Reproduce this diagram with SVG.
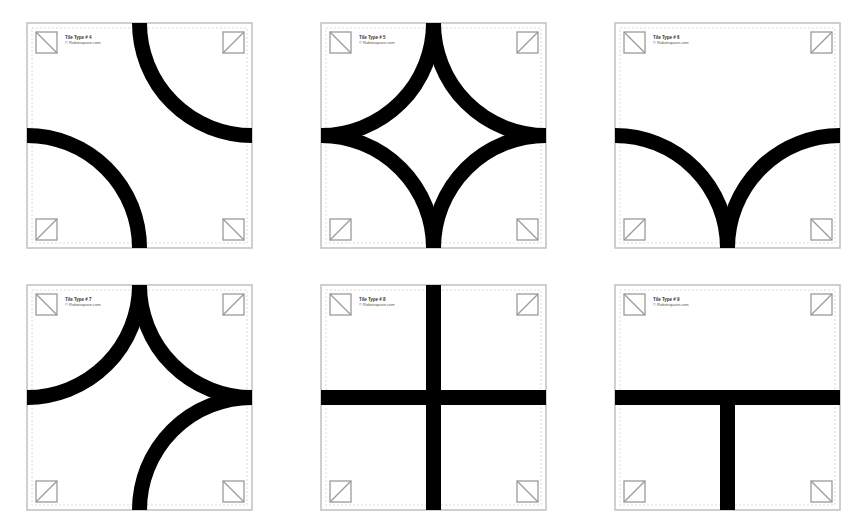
<svg xmlns="http://www.w3.org/2000/svg" xmlns:xlink="http://www.w3.org/1999/xlink" width="845" height="522" viewBox="0 0 845 522">
<style>
.outer{fill:#fff;stroke:#c4c4c4;stroke-width:1.6}
.inner{fill:none;stroke:#d2d2d2;stroke-width:0.8;stroke-dasharray:2 2}
.icon{fill:none;stroke:#9a9a9a;stroke-width:1.3}
.trk{fill:none;stroke:#000;stroke-width:15}
.t1{font-family:"Liberation Sans",Arial,sans-serif;font-size:4.5px;font-weight:bold;fill:#333}
.t2{font-family:"Liberation Sans",Arial,sans-serif;font-size:4px;fill:#555}
</style>
<defs>
<clipPath id="tc"><rect x="0" y="0" width="225" height="225"/></clipPath>
<g id="frame">
<rect class="outer" x="0" y="0" width="225" height="225"/>
<rect class="inner" x="5" y="5" width="215" height="215"/>
<g class="icon">
<rect x="9" y="9" width="21" height="21"/><line x1="9" y1="9" x2="30" y2="30"/>
<rect x="196" y="9" width="21" height="21"/><line x1="196" y1="30" x2="217" y2="9"/>
<rect x="9" y="196" width="21" height="21"/><line x1="9" y1="217" x2="30" y2="196"/>
<rect x="196" y="196" width="21" height="21"/><line x1="196" y1="196" x2="217" y2="217"/>
</g>
</g>
</defs>
<rect width="845" height="522" fill="#fff"/>

<g id="tile4" transform="translate(27,23)">
<use xlink:href="#frame"/>
<text class="t1" x="38" y="16">Tile Type # 4</text>
<text class="t2" x="38" y="21">© Robotsquare.com</text>
<g clip-path="url(#tc)" class="trk">
<circle cx="225" cy="0" r="112.5"/>
<circle cx="0" cy="225" r="112.5"/>
</g>
</g>

<g id="tile5" transform="translate(321,23)">
<use xlink:href="#frame"/>
<text class="t1" x="38" y="16">Tile Type # 5</text>
<text class="t2" x="38" y="21">© Robotsquare.com</text>
<g clip-path="url(#tc)" class="trk">
<circle cx="0" cy="0" r="112.5"/>
<circle cx="225" cy="0" r="112.5"/>
<circle cx="0" cy="225" r="112.5"/>
<circle cx="225" cy="225" r="112.5"/>
</g>
</g>

<g id="tile6" transform="translate(615,23)">
<use xlink:href="#frame"/>
<text class="t1" x="38" y="16">Tile Type # 6</text>
<text class="t2" x="38" y="21">© Robotsquare.com</text>
<g clip-path="url(#tc)" class="trk">
<circle cx="0" cy="225" r="112.5"/>
<circle cx="225" cy="225" r="112.5"/>
</g>
</g>

<g id="tile7" transform="translate(27,285)">
<use xlink:href="#frame"/>
<text class="t1" x="38" y="16">Tile Type # 7</text>
<text class="t2" x="38" y="21">© Robotsquare.com</text>
<g clip-path="url(#tc)" class="trk">
<circle cx="0" cy="0" r="112.5"/>
<circle cx="225" cy="0" r="112.5"/>
<circle cx="225" cy="225" r="112.5"/>
</g>
</g>

<g id="tile8" transform="translate(321,285)">
<use xlink:href="#frame"/>
<text class="t1" x="38" y="16">Tile Type # 8</text>
<text class="t2" x="38" y="21">© Robotsquare.com</text>
<g class="trk">
<line x1="112.5" y1="0" x2="112.5" y2="225"/>
<line x1="0" y1="112.5" x2="225" y2="112.5"/>
</g>
</g>

<g id="tile9" transform="translate(615,285)">
<use xlink:href="#frame"/>
<text class="t1" x="38" y="16">Tile Type # 9</text>
<text class="t2" x="38" y="21">© Robotsquare.com</text>
<g class="trk">
<line x1="0" y1="112.5" x2="225" y2="112.5"/>
<line x1="112.5" y1="112.5" x2="112.5" y2="225"/>
</g>
</g>
</svg>
